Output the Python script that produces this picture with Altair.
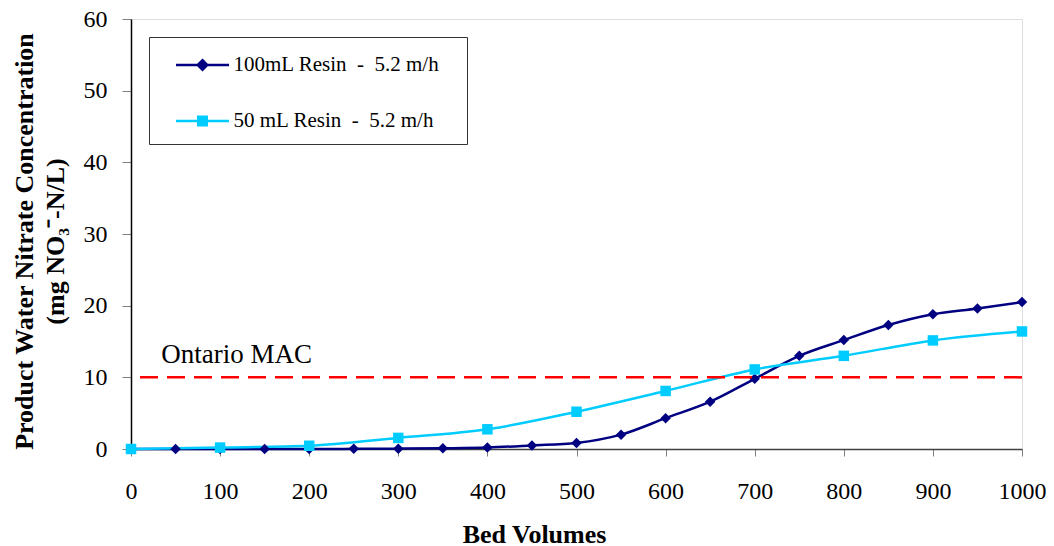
import altair as alt
import pandas as pd

# ---- data ----
bv_100 = [0, 50, 100, 150, 200, 250, 300, 350, 400, 450, 500,
          550, 600, 650, 700, 750, 800, 850, 900, 950, 1000]
conc_100 = [0, 0, 0, 0, 0, 0.02, 0.05, 0.1, 0.2, 0.5, 0.85,
            2.0, 4.3, 6.6, 9.8, 13.0, 15.2, 17.3, 18.8, 19.6, 20.5]

bv_50 = [0, 100, 200, 300, 400, 500, 600, 700, 800, 900, 1000]
conc_50 = [0, 0.2, 0.45, 1.55, 2.75, 5.2, 8.1, 11.1, 13.0, 15.15, 16.4]

series_names = ["100mL Resin \u00a0-\u00a0 5.2 m/h", "50 mL Resin \u00a0-\u00a0 5.2 m/h"]
series_colors = ["#000080", "#00CCFF"]
series_shapes = ["diamond", "square"]

mac_value = [10]
mac_label = ["Ontario MAC"]
mac_label_x = [34]

x_ticks = list(range(0, 1001, 100))
y_ticks = list(range(0, 61, 10))

# ---- tables ----
df = pd.concat([
    pd.DataFrame({"bv": bv_100, "conc": conc_100, "series": series_names[0]}),
    pd.DataFrame({"bv": bv_50, "conc": conc_50, "series": series_names[1]}),
], ignore_index=True)
mac_df = pd.DataFrame({"y": mac_value})
lab_df = pd.DataFrame({"x": mac_label_x, "y": mac_value, "t": mac_label})

FONT = "Liberation Serif"

# legend glyphs: a line segment with the series marker in the middle
# (the trailing moves only reserve room inside the legend box)
legend_shapes = [
    "M-1.116,0H1.116M0,-0.2L0.2,0L0,0.2L-0.2,0ZM0,0.61M10.8,0",
    "M-1.116,0H1.116M-0.18,-0.18H0.18V0.18H-0.18ZM0,0.61M10.8,0",
]

legend = alt.Legend(
    title=None,
    orient="none",
    legendX=18,
    legendY=18,
    padding=3,
    rowPadding=11,
    symbolSize=2256,
    symbolStrokeWidth=2.5,
    symbolOffset=25.5,
    symbolOpacity=1,
    labelOffset=6,
    labelLimit=0,
    labelFont=FONT,
    labelFontSize=21,
    labelColor="#000000",
    strokeColor="#333333",
    fillColor="#FFFFFF",
)

x_enc = alt.X(
    "bv:Q",
    scale=alt.Scale(domain=[0, 1000], nice=False),
    axis=alt.Axis(
        values=x_ticks,
        format="d",
        title="Bed Volumes",
        titleFont=FONT,
        titleFontSize=26,
        titleFontWeight="bold",
        titleColor="#000000",
        titleX=403,
        titleY=93,
        titleAlign="center",
        titleBaseline="alphabetic",
        labelFont=FONT,
        labelFontSize=24,
        labelColor="#000000",
        labelPadding=23,
        tickSize=7,
        tickColor="#808080",
        domainColor="#404040",
        domainWidth=1.5,
        grid=False,
        labelFlush=False,
    ),
)
y_enc = alt.Y(
    "conc:Q",
    scale=alt.Scale(domain=[0, 60], nice=False),
    axis=alt.Axis(
        values=y_ticks,
        format="d",
        title=["Product Water Nitrate Concentration", "(mg NO\u2083\u207b-N/L)"],
        titleFont=FONT,
        titleFontSize=26,
        titleFontWeight="bold",
        titleColor="#000000",
        titleAngle=-90,
        titleX=-107,
        titleY=222,
        titleAlign="center",
        titleBaseline="middle",
        titleLineHeight=31,
        labelFont=FONT,
        labelFontSize=24,
        labelColor="#000000",
        labelPadding=15,
        tickSize=9,
        tickColor="#808080",
        domainColor="#000000",
        domainWidth=1.5,
        grid=False,
        labelFlush=False,
    ),
)
color_scale = alt.Scale(domain=series_names, range=series_colors)

lines = alt.Chart(df).mark_line(interpolate="monotone", strokeWidth=2.5).encode(
    x=x_enc, y=y_enc,
    color=alt.Color("series:N", scale=color_scale, legend=None),
)
points = alt.Chart(df).mark_point(filled=True, opacity=1, size=110).encode(
    x="bv:Q",
    y="conc:Q",
    color=alt.Color("series:N", scale=color_scale, legend=None),
    shape=alt.Shape("series:N",
                    scale=alt.Scale(domain=series_names, range=series_shapes),
                    legend=None),
)
# invisible layer that only carries the legend (line + marker glyphs)
legend_layer = alt.Chart(df).mark_point(filled=True, opacity=0, size=1).encode(
    x="bv:Q",
    y="conc:Q",
    fill=alt.Fill("series:N", scale=color_scale, legend=legend),
    stroke=alt.Stroke("series:N", scale=color_scale, legend=legend),
    shape=alt.Shape("series:N",
                    scale=alt.Scale(domain=series_names, range=legend_shapes),
                    legend=legend),
)
rule = alt.Chart(mac_df).mark_rule(
    color="#FF0000", strokeWidth=2.5, strokeDash=[18, 9]
).encode(y="y:Q")
label = alt.Chart(lab_df).mark_text(
    align="left", baseline="alphabetic", dy=-14, font=FONT, fontSize=27, color="#000000"
).encode(x="x:Q", y="y:Q", text="t:N")

chart = alt.layer(lines, points, rule, label, legend_layer).resolve_scale(
    shape="independent", fill="independent", stroke="independent"
).properties(
    width=891,
    height=430,
    autosize=alt.AutoSizeParams(type="none"),
    padding={"left": 123, "top": 11, "right": 24, "bottom": 97},
    background="#FFFFFF",
).configure_view(
    stroke="#808080", strokeWidth=2
).configure(font=FONT)

chart.save("out.html", embed_options={"renderer": "svg", "actions": False})
